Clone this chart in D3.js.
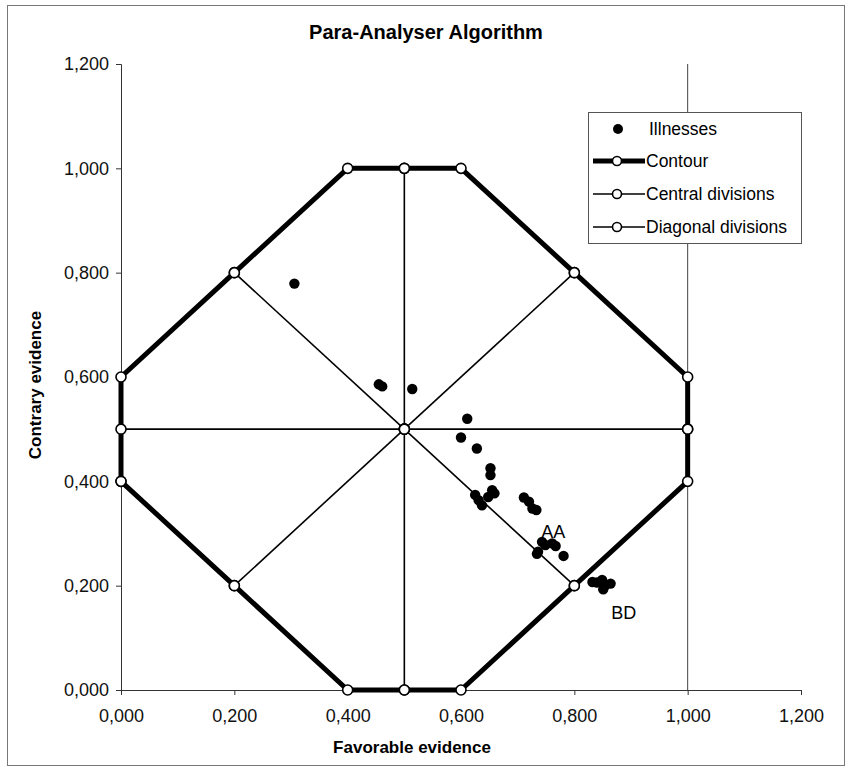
<!DOCTYPE html>
<html>
<head>
<meta charset="utf-8">
<script src="https://cdn.jsdelivr.net/npm/d3@7"></script>
<style>
  body { margin: 0; background: #fff; }
  svg { display: block; font-family: "Liberation Sans", Arial, sans-serif; }
</style>
</head>
<body>
<svg id="chart" width="848" height="770"></svg>
<script>
// ---- Data ----
const xTicks = [0, 0.2, 0.4, 0.6, 0.8, 1.0, 1.2];
const yTicks = [0, 0.2, 0.4, 0.6, 0.8, 1.0, 1.2];

const illnessX = [0.306, 0.455, 0.461, 0.514, 0.611, 0.600, 0.628, 0.652, 0.652, 0.625, 0.631, 0.637, 0.648, 0.655, 0.659,
                  0.711, 0.720, 0.726, 0.733, 0.743, 0.749, 0.761, 0.767, 0.736, 0.734, 0.781,
                  0.832, 0.840, 0.849, 0.855, 0.864, 0.851];
const illnessY = [0.779, 0.586, 0.582, 0.577, 0.520, 0.484, 0.463, 0.425, 0.412, 0.374, 0.364, 0.354, 0.370, 0.383, 0.377,
                  0.369, 0.361, 0.348, 0.345, 0.284, 0.278, 0.281, 0.276, 0.265, 0.261, 0.257,
                  0.207, 0.206, 0.211, 0.201, 0.204, 0.193];

const contourX = [0, 0, 0.2, 0.4, 0.5, 0.6, 0.8, 1.0, 1.0, 1.0, 0.8, 0.6, 0.5, 0.4, 0.2, 0];
const contourY = [0.4, 0.6, 0.8, 1.0, 1.0, 1.0, 0.8, 0.6, 0.5, 0.4, 0.2, 0, 0, 0, 0.2, 0.4];

const centralH = { x: [0, 0.5, 1.0], y: [0.5, 0.5, 0.5] };
const centralV = { x: [0.5, 0.5, 0.5], y: [0, 0.5, 1.0] };
const diag1 = { x: [0.2, 0.5, 0.8], y: [0.2, 0.5, 0.8] };
const diag2 = { x: [0.2, 0.5, 0.8], y: [0.8, 0.5, 0.2] };
const annotations = [{ text: "AA", x: 0.763, y: 0.292 }, { text: "BD", x: 0.887, y: 0.137 }];

const legendItems = ["Illnesses", "Contour", "Central divisions", "Diagonal divisions"];

// ---- Layout ----
const svg = d3.select("#chart");
const x = d3.scaleLinear().domain([0, 1.2]).range([121, 801]);
const y = d3.scaleLinear().domain([0, 1.2]).range([690, 64]);
const fmt = v => d3.format(".3f")(v).replace(".", ",");

// outer chart border
svg.append("rect").attr("x", 7.5).attr("y", 5.5).attr("width", 837).attr("height", 760)
  .attr("fill", "none").attr("stroke", "#777").attr("stroke-width", 1);

// title
svg.append("text").attr("x", 426).attr("y", 39).attr("text-anchor", "middle")
  .style("font-size", "20px").attr("font-weight", "bold").text("Para-Analyser Algorithm");

// gridline at x = 1.0
svg.append("line").attr("x1", x(1.0)).attr("x2", x(1.0)).attr("y1", y(1.2)).attr("y2", y(0))
  .attr("stroke", "#444").attr("stroke-width", 1);

// axes
const xAxis = d3.axisBottom(x).tickValues(xTicks).tickFormat(fmt).tickSize(5).tickPadding(14);
const yAxis = d3.axisLeft(y).tickValues(yTicks).tickFormat(fmt).tickSize(5).tickPadding(7);
const gx = svg.append("g").attr("transform", `translate(0,${y(0)})`).call(xAxis);
const gy = svg.append("g").attr("transform", `translate(${x(0)},0)`).call(yAxis);
[gx, gy].forEach(g => {
  g.attr("font-family", null).attr("font-size", null);
  g.select(".domain").attr("stroke", "#333");
  g.selectAll(".tick line").attr("stroke", "#333");
  g.selectAll("text").style("font-size", "18px").attr("fill", "#111")
    .style("font-family", "'Liberation Sans', Arial, sans-serif");
});

// axis titles
svg.append("text").attr("x", 412).attr("y", 753).attr("text-anchor", "middle")
  .style("font-size", "17px").attr("font-weight", "bold").text("Favorable evidence");
svg.append("text").attr("transform", `translate(41,385) rotate(-90)`).attr("text-anchor", "middle")
  .style("font-size", "17px").attr("font-weight", "bold").text("Contrary evidence");

const line = d3.line().x(d => x(d[0])).y(d => y(d[1]));
const zipXY = (xs, ys) => xs.map((v, i) => [v, ys[i]]);

function drawSeries(pts, width) {
  svg.append("path").attr("d", line(pts)).attr("fill", "none")
    .attr("stroke", "#000").attr("stroke-width", width).attr("stroke-linejoin", "round");
}
function drawMarkers(pts) {
  svg.append("g").selectAll("circle").data(pts).join("circle")
    .attr("cx", d => x(d[0])).attr("cy", d => y(d[1])).attr("r", 5)
    .attr("fill", "#fff").attr("stroke", "#000").attr("stroke-width", 1.6);
}

const central = [zipXY(centralH.x, centralH.y), zipXY(centralV.x, centralV.y)];
const diags = [zipXY(diag1.x, diag1.y), zipXY(diag2.x, diag2.y)];
const contour = zipXY(contourX, contourY);

central.forEach(p => drawSeries(p, 1.6));
diags.forEach(p => drawSeries(p, 1.6));
drawSeries(contour, 5);
central.forEach(p => drawMarkers(p));
diags.forEach(p => drawMarkers(p));
drawMarkers(contour);

// illnesses
svg.append("g").selectAll("circle").data(zipXY(illnessX, illnessY)).join("circle")
  .attr("cx", d => x(d[0])).attr("cy", d => y(d[1])).attr("r", 5.2).attr("fill", "#000");

// annotations
svg.append("g").selectAll("text").data(annotations).join("text")
  .attr("x", d => x(d.x)).attr("y", d => y(d.y)).attr("text-anchor", "middle")
  .style("font-size", "18px").text(d => d.text);

// legend
const lg = svg.append("g");
lg.append("rect").attr("x", 588.5).attr("y", 112.5).attr("width", 213).attr("height", 131)
  .attr("fill", "#fff").attr("stroke", "#555").attr("stroke-width", 1);
const rowY = [129, 161, 194, 227];
legendItems.forEach((name, i) => {
  const cy = rowY[i];
  if (i === 0) {
    lg.append("circle").attr("cx", 618).attr("cy", cy).attr("r", 5).attr("fill", "#000");
  } else {
    lg.append("line").attr("x1", 593).attr("x2", 645).attr("y1", cy).attr("y2", cy)
      .attr("stroke", "#000").attr("stroke-width", i === 1 ? 5 : 1.6);
    lg.append("circle").attr("cx", 617).attr("cy", cy).attr("r", 4.5)
      .attr("fill", "#fff").attr("stroke", "#000").attr("stroke-width", 1.6);
  }
  lg.append("text").attr("x", i === 0 ? 649 : 646).attr("y", cy + 6).style("font-size", "17.5px").text(name);
});
</script>
</body>
</html>
